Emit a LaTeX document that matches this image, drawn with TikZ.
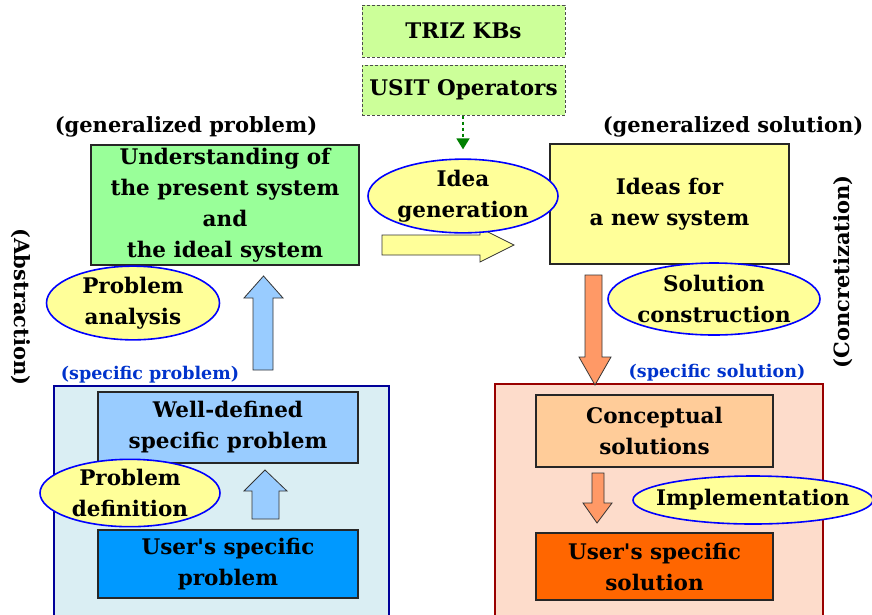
\documentclass[tikz,border=0pt]{standalone}
\usepackage{fontspec}
\setmainfont{DejaVu Serif}
\usetikzlibrary{positioning, arrows.meta, shapes.geometric}
\definecolor{trizgreen}{HTML}{CCFF99}
\definecolor{genprob}{HTML}{99FF99}
\definecolor{ideayellow}{HTML}{FFFF99}
\definecolor{probpanel}{HTML}{DAEEF3}
\definecolor{probpanelline}{HTML}{000099}
\definecolor{wellblue}{HTML}{99CCFF}
\definecolor{userblue}{HTML}{0099FF}
\definecolor{solpanel}{HTML}{FDDCCB}
\definecolor{solpanelline}{HTML}{990000}
\definecolor{concorange}{HTML}{FFCC99}
\definecolor{userorange}{HTML}{FF6600}
\definecolor{arroworange}{HTML}{FF9966}
\definecolor{tagblue}{HTML}{0033CC}
\definecolor{kbgreen}{HTML}{008000}

\begin{document}
\begin{tikzpicture}[x=1pt, y=-1pt,
        every node/.style={font=\fontsize{21.5}{31}\selectfont\bfseries, align=center, inner sep=0pt},
        box/.style={rectangle, draw=black!85, line width=1.3pt},
        kb/.style={box, draw=black!70, densely dashed, line width=1pt, fill=trizgreen},
        act/.style={ellipse, draw=blue, line width=1.6pt, fill=ideayellow},
        panel/.style={rectangle, line width=1.6pt},
        tag/.style={font=\fontsize{21}{24}\selectfont\bfseries},
        spec/.style={font=\fontsize{17.5}{20}\selectfont\bfseries, text=tagblue},
        blockarrow/.style={draw=black!80, line width=0.8pt},
    ]
    \useasboundingbox (0,0) rectangle (872,614);

    % Knowledge bases on top
    \node[kb, minimum width=203pt, minimum height=52pt] (triz) at (463.5,31) {TRIZ KBs};
    \node[kb, minimum width=203pt, minimum height=50pt] (usit) at (463.5,90) {USIT Operators};

    % Generalized level
    \node[tag] (genprobtag) at (186,127) {(generalized problem)};
    \node[box, fill=genprob, minimum width=268pt, minimum height=120pt] (understand) at (225,205)
        {Understanding of\\the present system\\and\\the ideal system};
    \node[tag] (gensoltag) at (733,127) {(generalized solution)};
    \node[box, fill=ideayellow, minimum width=239pt, minimum height=120pt] (ideas) at (669.5,204)
        {Ideas for\\a new system};

    % Yellow arrow between the generalized boxes
    \draw[blockarrow, fill=ideayellow] (382,235) -- (480,235) -- (480,228) -- (514,245)
        -- (480,262) -- (480,255) -- (382,255) -- cycle;
    \node[act, minimum width=190pt, minimum height=72pt] (ideagen) at (463,196) {Idea\\generation};
    \draw[kbgreen, line width=1.8pt, dashed, -{Triangle[width=13pt, length=11pt]}, shorten >=9pt]
        (usit.south -| ideagen.north) -- (ideagen.north);

    % Side labels
    \node[tag, rotate=-90] (abstr) at (21,307) {(Abstraction)};
    \node[tag, rotate=90] (concr) at (843,272) {(Concretization)};

    % Specific problem panel
    \node[spec] (specprob) at (150,375) {(specific problem)};
    \node[panel, draw=probpanelline, fill=probpanel, minimum width=335pt, minimum height=240pt] (probpanel) at (221.5,506) {};
    \node[box, fill=wellblue, minimum width=260pt, minimum height=71pt] (welldef) at (228,427.5)
        {Well-defined\\specific problem};
    \node[box, fill=userblue, minimum width=260pt, minimum height=68pt] (userprob) at (228,564)
        {User\textquotesingle s specific\\problem};
    \draw[blockarrow, fill=wellblue] (252,519) -- (252,491) -- (244,491) -- (265,470)
        -- (287,491) -- (279,491) -- (279,519) -- cycle;
    \node[act, minimum width=180pt, minimum height=60pt, inner xsep=-3pt] (probdef) at (130,493) {Problem\\definition};

    % Abstraction arrow
    \draw[blockarrow, fill=wellblue] (253,370) -- (253,298) -- (244,298) -- (263.5,276)
        -- (283,298) -- (273,298) -- (273,370) -- cycle;
    \node[act, minimum width=173pt, minimum height=70pt] (probana) at (133,303) {Problem\\analysis};

    % Specific solution panel
    \node[spec] (specsol) at (717,373) {(specific solution)};
    \node[panel, draw=solpanelline, fill=solpanel, minimum width=328pt, minimum height=240pt] (solpanel) at (659,504) {};
    \node[box, fill=concorange, minimum width=237pt, minimum height=72pt] (concept) at (654.5,431)
        {Conceptual\\solutions};
    \node[box, fill=userorange, minimum width=237pt, minimum height=67pt] (usersol) at (654.5,566.5)
        {User\textquotesingle s specific\\solution};
    \draw[blockarrow, fill=arroworange] (592,473) -- (604,473) -- (604,503) -- (612,503)
        -- (597,523) -- (583,503) -- (592,503) -- cycle;
    \node[act, minimum width=240pt, minimum height=48pt, inner xsep=-13pt, inner ysep=1pt] (implement) at (753,500) {Implementation};

    % Concretization arrow
    \draw[blockarrow, fill=arroworange] (585,275) -- (602,275) -- (602,357) -- (611,357)
        -- (595,385) -- (579,357) -- (585,357) -- cycle;
    \node[act, minimum width=212pt, minimum height=72pt, inner xsep=-3pt] (solcons) at (714,299) {Solution\\construction};
\end{tikzpicture}
\end{document}
